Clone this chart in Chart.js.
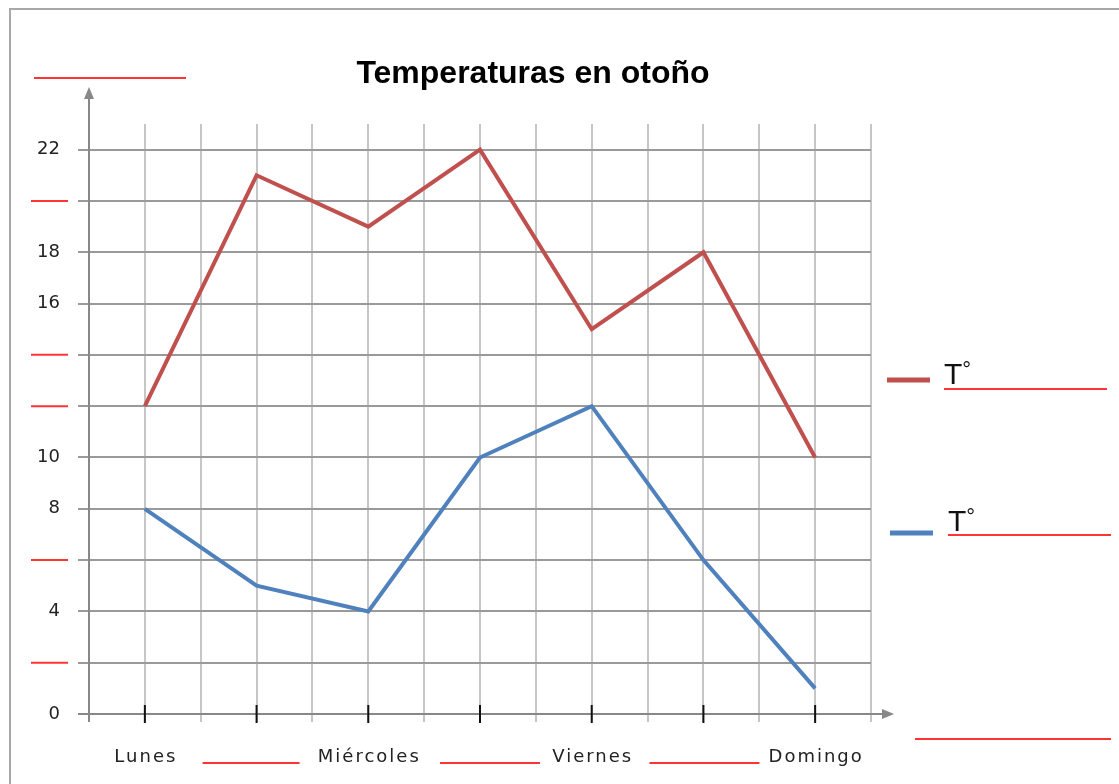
<!DOCTYPE html>
<html>
<head>
<meta charset="utf-8">
<script src="https://cdn.jsdelivr.net/npm/chart.js@4/dist/chart.umd.min.js"></script>
<style>
  html, body { margin: 0; padding: 0; background: #fff; }
  #wrap { width: 1119px; height: 784px; }
</style>
</head>
<body>
<div id="wrap"><canvas id="temps"></canvas></div>
<script>
const titulo = 'Temperaturas en otoño';
// los huecos ('') son espacios para rellenar (línea roja)
const dias = ['Lunes', '', 'Miércoles', '', 'Viernes', '', 'Domingo'];
const tempAlta = [12, 21, 19, 22, 15, 18, 10];
const tempBaja = [8, 5, 4, 10, 12, 6, 1];
const nombresSeries = ['T°', 'T°'];
const coloresSeries = ['#c0504d', '#4f81bd'];
const yVisibles = [0, 4, 8, 10, 16, 18, 22];

const ROJO = '#ff3434';
// desplazamiento de cada hueco del eje x respecto a su día [izq, der]
const huecosX = { 1: [-54, 43], 3: [-40, 60], 5: [-54, 56] };

function linea(ctx, x1, y1, x2, y2, color, ancho) {
    ctx.save();
    ctx.strokeStyle = color;
    ctx.lineWidth = ancho;
    ctx.beginPath();
    ctx.moveTo(x1, y1);
    ctx.lineTo(x2, y2);
    ctx.stroke();
    ctx.restore();
}

function flecha(ctx, x, y, dir) {
    ctx.save();
    ctx.fillStyle = '#888';
    ctx.beginPath();
    if (dir === 'up') {
        ctx.moveTo(x, y); ctx.lineTo(x - 5, y + 12); ctx.lineTo(x + 5, y + 12);
    } else {
        ctx.moveTo(x, y); ctx.lineTo(x - 12, y - 5); ctx.lineTo(x - 12, y + 5);
    }
    ctx.closePath();
    ctx.fill();
    ctx.restore();
}

const hoja = {
    id: 'hoja',
    beforeDraw(chart) {
        const ctx = chart.ctx;
        ctx.save();
        ctx.fillStyle = '#fff';
        ctx.fillRect(0, 0, chart.width, chart.height);
        ctx.restore();
        // marco
        linea(ctx, 9, 9, chart.width, 9, '#a8a8a8', 2);
        linea(ctx, 10, 8, 10, chart.height, '#a8a8a8', 2);
    },
    beforeDatasetsDraw(chart) {
        const ctx = chart.ctx;
        const xs = chart.scales.x, ys = chart.scales.y;
        const base = ys.getPixelForValue(0);
        const izq = xs.left;
        // ejes con flecha
        linea(ctx, izq, base + 8, izq, 98, '#888', 2);
        flecha(ctx, izq, 87, 'up');
        linea(ctx, izq - 11, base, xs.right + 14, base, '#888', 2);
        flecha(ctx, xs.right + 23, base, 'right');
        // marcas negras en cada día
        dias.forEach((d, i) => {
            const x = xs.getPixelForValue(i);
            linea(ctx, x, base - 9, x, base + 9, '#111', 2);
        });
    },
    afterDraw(chart) {
        const ctx = chart.ctx;
        const xs = chart.scales.x, ys = chart.scales.y;

        // título
        ctx.save();
        ctx.fillStyle = '#000';
        ctx.font = 'bold 32px "Liberation Sans"';
        ctx.textAlign = 'center';
        ctx.textBaseline = 'alphabetic';
        ctx.fillText(titulo, 533, 83);
        ctx.restore();

        // etiquetas de días
        ctx.save();
        ctx.fillStyle = '#222';
        ctx.font = '18px "DejaVu Sans"';
        ctx.letterSpacing = '2px';
        ctx.textAlign = 'center';
        ctx.textBaseline = 'middle';
        dias.forEach((d, i) => {
            const x = xs.getPixelForValue(i);
            if (d) ctx.fillText(d, x + 1, 757);
            else linea(ctx, x + huecosX[i][0], 763, x + huecosX[i][1], 763, ROJO, 2);
        });
        ctx.restore();

        // huecos del eje y
        for (let v = 0; v <= 22; v += 2) {
            if (!yVisibles.includes(v)) {
                const y = ys.getPixelForValue(v);
                linea(ctx, 31, y, 68, y, ROJO, 2);
            }
        }
        // títulos de ejes (en blanco)
        linea(ctx, 34, 78, 186, 78, ROJO, 2);
        linea(ctx, 915, 739, 1111, 739, ROJO, 2);

        // leyenda
        const filas = [
            { y: 380, xm: 887, xt: 944, base: 384, sub: 389 },
            { y: 533, xm: 890, xt: 948, base: 531, sub: 535 }
        ];
        filas.forEach((f, i) => {
            linea(ctx, f.xm, f.y, f.xm + 43, f.y, coloresSeries[i], 5);
            const nombre = nombresSeries[i];
            ctx.save();
            ctx.fillStyle = '#111';
            ctx.textAlign = 'left';
            ctx.textBaseline = 'alphabetic';
            ctx.font = '30px "Liberation Sans"';
            ctx.fillText(nombre[0], f.xt, f.base);
            const w = ctx.measureText(nombre[0]).width;
            ctx.font = '22px "Liberation Sans"';
            ctx.fillText(nombre.slice(1), f.xt + w, f.base - 7);
            ctx.restore();
            linea(ctx, f.xt, f.sub, f.xt + 163, f.sub, ROJO, 2);
        });
    }
};

new Chart(document.getElementById('temps'), {
    type: 'line',
    data: {
        datasets: [
            {
                label: nombresSeries[0],
                data: tempAlta.map((v, i) => ({ x: i, y: v })),
                borderColor: coloresSeries[0],
                borderWidth: 4,
                borderJoinStyle: 'miter',
                pointRadius: 0,
                tension: 0
            },
            {
                label: nombresSeries[1],
                data: tempBaja.map((v, i) => ({ x: i, y: v })),
                borderColor: coloresSeries[1],
                borderWidth: 4,
                borderJoinStyle: 'miter',
                pointRadius: 0,
                tension: 0
            }
        ]
    },
    options: {
        responsive: true,
        maintainAspectRatio: false,
        animation: false,
        layout: { padding: { top: 124, right: 248, left: 0, bottom: 0 } },
        plugins: {
            legend: { display: false },
            title: { display: false },
            tooltip: { enabled: false }
        },
        scales: {
            x: {
                type: 'linear',
                min: -0.5,
                max: 6.5,
                ticks: { stepSize: 0.5, display: false },
                grid: { color: '#c6c6c6', lineWidth: 2, tickLength: 8 },
                border: { display: false },
                afterFit: s => { s.height = 70; }
            },
            y: {
                min: 0,
                max: 23,
                ticks: {
                    stepSize: 2,
                    includeBounds: false,
                    padding: 18,
                    color: '#222',
                    font: { family: 'DejaVu Sans', size: 18 },
                    callback: v => yVisibles.includes(v) ? String(v) : ''
                },
                grid: { color: '#9a9a9a', lineWidth: 2, tickLength: 11 },
                border: { display: false },
                afterFit: s => { s.width = 89; }
            }
        }
    },
    plugins: [hoja]
});
</script>
</body>
</html>
